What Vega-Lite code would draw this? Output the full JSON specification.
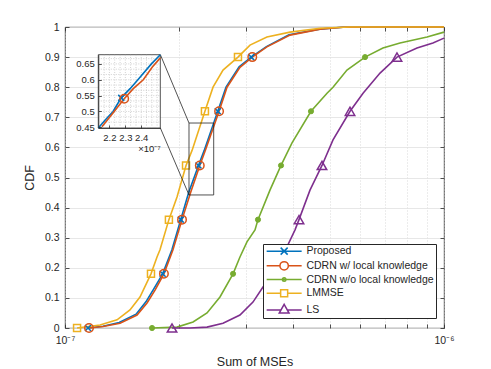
{
  "$schema": "https://vega.github.io/schema/vega-lite/v6.json",
  "width": 379,
  "height": 301,
  "autosize": "none",
  "padding": {"left": 65, "top": 27, "right": 47, "bottom": 41},
  "config": {
    "font": "Liberation Sans",
    "view": {"stroke": "#262626", "strokeWidth": 0.8},
    "axis": {
      "labelFont": "Liberation Sans",
      "labelFontSize": 10.5,
      "labelColor": "#262626",
      "titleFont": "Liberation Sans",
      "titleFontSize": 12.5,
      "titleFontWeight": "normal",
      "titleColor": "#262626",
      "tickColor": "#262626",
      "domainColor": "#262626",
      "tickWidth": 0.8,
      "domainWidth": 0.8
    }
  },
  "datasets": {
    "curves": [
      {"series": "Proposed", "mse": 1.150e-7, "cdf": 0},
      {"series": "Proposed", "mse": 1.26e-7, "cdf": 0.006},
      {"series": "Proposed", "mse": 1.39e-7, "cdf": 0.018},
      {"series": "Proposed", "mse": 1.54e-7, "cdf": 0.046},
      {"series": "Proposed", "mse": 1.635e-7, "cdf": 0.087},
      {"series": "Proposed", "mse": 1.715e-7, "cdf": 0.13},
      {"series": "Proposed", "mse": 1.81e-7, "cdf": 0.18},
      {"series": "Proposed", "mse": 1.915e-7, "cdf": 0.26},
      {"series": "Proposed", "mse": 2.02e-7, "cdf": 0.36},
      {"series": "Proposed", "mse": 2.12e-7, "cdf": 0.45},
      {"series": "Proposed", "mse": 2.25e-7, "cdf": 0.54},
      {"series": "Proposed", "mse": 2.33e-7, "cdf": 0.59},
      {"series": "Proposed", "mse": 2.53e-7, "cdf": 0.72},
      {"series": "Proposed", "mse": 2.66e-7, "cdf": 0.80},
      {"series": "Proposed", "mse": 2.88e-7, "cdf": 0.868},
      {"series": "Proposed", "mse": 3.10e-7, "cdf": 0.90},
      {"series": "Proposed", "mse": 3.40e-7, "cdf": 0.935},
      {"series": "Proposed", "mse": 3.90e-7, "cdf": 0.974},
      {"series": "Proposed", "mse": 4.70e-7, "cdf": 0.993},
      {"series": "Proposed", "mse": 5.40e-7, "cdf": 0.999},
      {"series": "Proposed", "mse": 6.80e-7, "cdf": 1},
      {"series": "Proposed", "mse": 1e-6, "cdf": 1},
      {"series": "CDRN w/ local knowledge", "mse": 1.157e-7, "cdf": 0},
      {"series": "CDRN w/ local knowledge", "mse": 1.26e-7, "cdf": 0.005},
      {"series": "CDRN w/ local knowledge", "mse": 1.397e-7, "cdf": 0.016},
      {"series": "CDRN w/ local knowledge", "mse": 1.549e-7, "cdf": 0.043},
      {"series": "CDRN w/ local knowledge", "mse": 1.646e-7, "cdf": 0.083},
      {"series": "CDRN w/ local knowledge", "mse": 1.728e-7, "cdf": 0.126},
      {"series": "CDRN w/ local knowledge", "mse": 1.824e-7, "cdf": 0.18},
      {"series": "CDRN w/ local knowledge", "mse": 1.927e-7, "cdf": 0.26},
      {"series": "CDRN w/ local knowledge", "mse": 2.036e-7, "cdf": 0.36},
      {"series": "CDRN w/ local knowledge", "mse": 2.145e-7, "cdf": 0.45},
      {"series": "CDRN w/ local knowledge", "mse": 2.268e-7, "cdf": 0.54},
      {"series": "CDRN w/ local knowledge", "mse": 2.345e-7, "cdf": 0.59},
      {"series": "CDRN w/ local knowledge", "mse": 2.55e-7, "cdf": 0.72},
      {"series": "CDRN w/ local knowledge", "mse": 2.676e-7, "cdf": 0.80},
      {"series": "CDRN w/ local knowledge", "mse": 2.895e-7, "cdf": 0.866},
      {"series": "CDRN w/ local knowledge", "mse": 3.12e-7, "cdf": 0.90},
      {"series": "CDRN w/ local knowledge", "mse": 3.41e-7, "cdf": 0.934},
      {"series": "CDRN w/ local knowledge", "mse": 3.924e-7, "cdf": 0.973},
      {"series": "CDRN w/ local knowledge", "mse": 4.71e-7, "cdf": 0.993},
      {"series": "CDRN w/ local knowledge", "mse": 5.415e-7, "cdf": 0.999},
      {"series": "CDRN w/ local knowledge", "mse": 6.78e-7, "cdf": 1},
      {"series": "CDRN w/ local knowledge", "mse": 1e-6, "cdf": 1},
      {"series": "CDRN w/o local knowledge", "mse": 1.697e-7, "cdf": 0},
      {"series": "CDRN w/o local knowledge", "mse": 1.975e-7, "cdf": 0.003},
      {"series": "CDRN w/o local knowledge", "mse": 2.177e-7, "cdf": 0.02},
      {"series": "CDRN w/o local knowledge", "mse": 2.37e-7, "cdf": 0.05},
      {"series": "CDRN w/o local knowledge", "mse": 2.564e-7, "cdf": 0.103},
      {"series": "CDRN w/o local knowledge", "mse": 2.776e-7, "cdf": 0.18},
      {"series": "CDRN w/o local knowledge", "mse": 2.895e-7, "cdf": 0.236},
      {"series": "CDRN w/o local knowledge", "mse": 3.021e-7, "cdf": 0.286},
      {"series": "CDRN w/o local knowledge", "mse": 3.172e-7, "cdf": 0.326},
      {"series": "CDRN w/o local knowledge", "mse": 3.23e-7, "cdf": 0.36},
      {"series": "CDRN w/o local knowledge", "mse": 3.474e-7, "cdf": 0.458},
      {"series": "CDRN w/o local knowledge", "mse": 3.715e-7, "cdf": 0.54},
      {"series": "CDRN w/o local knowledge", "mse": 3.972e-7, "cdf": 0.615},
      {"series": "CDRN w/o local knowledge", "mse": 4.457e-7, "cdf": 0.72},
      {"series": "CDRN w/o local knowledge", "mse": 4.913e-7, "cdf": 0.78},
      {"series": "CDRN w/o local knowledge", "mse": 5.095e-7, "cdf": 0.80},
      {"series": "CDRN w/o local knowledge", "mse": 5.546e-7, "cdf": 0.857},
      {"series": "CDRN w/o local knowledge", "mse": 6.19e-7, "cdf": 0.90},
      {"series": "CDRN w/o local knowledge", "mse": 6.9e-7, "cdf": 0.93},
      {"series": "CDRN w/o local knowledge", "mse": 7.655e-7, "cdf": 0.947},
      {"series": "CDRN w/o local knowledge", "mse": 9.02e-7, "cdf": 0.967},
      {"series": "CDRN w/o local knowledge", "mse": 1e-6, "cdf": 0.983},
      {"series": "LMMSE", "mse": 1.076e-7, "cdf": 0},
      {"series": "LMMSE", "mse": 1.237e-7, "cdf": 0.01},
      {"series": "LMMSE", "mse": 1.372e-7, "cdf": 0.027},
      {"series": "LMMSE", "mse": 1.484e-7, "cdf": 0.06},
      {"series": "LMMSE", "mse": 1.577e-7, "cdf": 0.103},
      {"series": "LMMSE", "mse": 1.686e-7, "cdf": 0.18},
      {"series": "LMMSE", "mse": 1.749e-7, "cdf": 0.236},
      {"series": "LMMSE", "mse": 1.781e-7, "cdf": 0.26},
      {"series": "LMMSE", "mse": 1.88e-7, "cdf": 0.36},
      {"series": "LMMSE", "mse": 1.975e-7, "cdf": 0.435},
      {"series": "LMMSE", "mse": 2.086e-7, "cdf": 0.54},
      {"series": "LMMSE", "mse": 2.164e-7, "cdf": 0.59},
      {"series": "LMMSE", "mse": 2.34e-7, "cdf": 0.72},
      {"series": "LMMSE", "mse": 2.458e-7, "cdf": 0.80},
      {"series": "LMMSE", "mse": 2.612e-7, "cdf": 0.857},
      {"series": "LMMSE", "mse": 2.86e-7, "cdf": 0.90},
      {"series": "LMMSE", "mse": 3.077e-7, "cdf": 0.94},
      {"series": "LMMSE", "mse": 3.41e-7, "cdf": 0.967},
      {"series": "LMMSE", "mse": 3.924e-7, "cdf": 0.983},
      {"series": "LMMSE", "mse": 4.71e-7, "cdf": 0.996},
      {"series": "LMMSE", "mse": 5.65e-7, "cdf": 1},
      {"series": "LMMSE", "mse": 1e-6, "cdf": 1},
      {"series": "LS", "mse": 1.916e-7, "cdf": 0},
      {"series": "LS", "mse": 2.137e-7, "cdf": 0},
      {"series": "LS", "mse": 2.37e-7, "cdf": 0.003},
      {"series": "LS", "mse": 2.612e-7, "cdf": 0.016},
      {"series": "LS", "mse": 2.895e-7, "cdf": 0.043},
      {"series": "LS", "mse": 3.133e-7, "cdf": 0.086},
      {"series": "LS", "mse": 3.33e-7, "cdf": 0.136},
      {"series": "LS", "mse": 3.5e-7, "cdf": 0.18},
      {"series": "LS", "mse": 3.853e-7, "cdf": 0.27},
      {"series": "LS", "mse": 4.045e-7, "cdf": 0.326},
      {"series": "LS", "mse": 4.144e-7, "cdf": 0.36},
      {"series": "LS", "mse": 4.43e-7, "cdf": 0.458},
      {"series": "LS", "mse": 4.765e-7, "cdf": 0.54},
      {"series": "LS", "mse": 5.095e-7, "cdf": 0.625},
      {"series": "LS", "mse": 5.65e-7, "cdf": 0.72},
      {"series": "LS", "mse": 6.115e-7, "cdf": 0.78},
      {"series": "LS", "mse": 6.78e-7, "cdf": 0.847},
      {"series": "LS", "mse": 7.516e-7, "cdf": 0.90},
      {"series": "LS", "mse": 8.487e-7, "cdf": 0.93},
      {"series": "LS", "mse": 9.35e-7, "cdf": 0.947},
      {"series": "LS", "mse": 1e-6, "cdf": 0.963}
    ],
    "markers": [
      {"series": "Proposed", "mse": 1.150e-7, "cdf": 0},
      {"series": "Proposed", "mse": 1.81e-7, "cdf": 0.18},
      {"series": "Proposed", "mse": 2.02e-7, "cdf": 0.36},
      {"series": "Proposed", "mse": 2.25e-7, "cdf": 0.54},
      {"series": "Proposed", "mse": 2.53e-7, "cdf": 0.72},
      {"series": "Proposed", "mse": 3.10e-7, "cdf": 0.90},
      {"series": "CDRN w/ local knowledge", "mse": 1.157e-7, "cdf": 0},
      {"series": "CDRN w/ local knowledge", "mse": 1.824e-7, "cdf": 0.18},
      {"series": "CDRN w/ local knowledge", "mse": 2.036e-7, "cdf": 0.36},
      {"series": "CDRN w/ local knowledge", "mse": 2.268e-7, "cdf": 0.54},
      {"series": "CDRN w/ local knowledge", "mse": 2.55e-7, "cdf": 0.72},
      {"series": "CDRN w/ local knowledge", "mse": 3.12e-7, "cdf": 0.90},
      {"series": "CDRN w/o local knowledge", "mse": 1.697e-7, "cdf": 0},
      {"series": "CDRN w/o local knowledge", "mse": 2.776e-7, "cdf": 0.18},
      {"series": "CDRN w/o local knowledge", "mse": 3.23e-7, "cdf": 0.36},
      {"series": "CDRN w/o local knowledge", "mse": 3.715e-7, "cdf": 0.54},
      {"series": "CDRN w/o local knowledge", "mse": 4.457e-7, "cdf": 0.72},
      {"series": "CDRN w/o local knowledge", "mse": 6.19e-7, "cdf": 0.90},
      {"series": "LMMSE", "mse": 1.076e-7, "cdf": 0},
      {"series": "LMMSE", "mse": 1.686e-7, "cdf": 0.18},
      {"series": "LMMSE", "mse": 1.88e-7, "cdf": 0.36},
      {"series": "LMMSE", "mse": 2.086e-7, "cdf": 0.54},
      {"series": "LMMSE", "mse": 2.34e-7, "cdf": 0.72},
      {"series": "LMMSE", "mse": 2.86e-7, "cdf": 0.90},
      {"series": "LS", "mse": 1.916e-7, "cdf": 0},
      {"series": "LS", "mse": 3.5e-7, "cdf": 0.18},
      {"series": "LS", "mse": 4.144e-7, "cdf": 0.36},
      {"series": "LS", "mse": 4.765e-7, "cdf": 0.54},
      {"series": "LS", "mse": 5.65e-7, "cdf": 0.72},
      {"series": "LS", "mse": 7.516e-7, "cdf": 0.90}
    ],
    "zoombox": [{"x1": 2.124e-7, "x2": 2.468e-7, "y1": 0.442, "y2": 0.681}],
    "connectors": [
      {"x1": 1.785e-7, "y1": 0.908, "x2": 2.124e-7, "y2": 0.681},
      {"x1": 1.785e-7, "y1": 0.6645, "x2": 2.124e-7, "y2": 0.442}
    ],
    "inset": [
      {"series": "Proposed", "mse": 2.130e-7, "cdf": 0.448},
      {"series": "Proposed", "mse": 2.175e-7, "cdf": 0.474},
      {"series": "Proposed", "mse": 2.223e-7, "cdf": 0.50},
      {"series": "Proposed", "mse": 2.274e-7, "cdf": 0.543},
      {"series": "Proposed", "mse": 2.33e-7, "cdf": 0.572},
      {"series": "Proposed", "mse": 2.379e-7, "cdf": 0.60},
      {"series": "Proposed", "mse": 2.464e-7, "cdf": 0.65},
      {"series": "Proposed", "mse": 2.52e-7, "cdf": 0.679},
      {"series": "CDRN w/ local knowledge", "mse": 2.153e-7, "cdf": 0.452},
      {"series": "CDRN w/ local knowledge", "mse": 2.22e-7, "cdf": 0.494},
      {"series": "CDRN w/ local knowledge", "mse": 2.293e-7, "cdf": 0.54},
      {"series": "CDRN w/ local knowledge", "mse": 2.35e-7, "cdf": 0.572},
      {"series": "CDRN w/ local knowledge", "mse": 2.413e-7, "cdf": 0.60},
      {"series": "CDRN w/ local knowledge", "mse": 2.47e-7, "cdf": 0.64},
      {"series": "CDRN w/ local knowledge", "mse": 2.52e-7, "cdf": 0.669}
    ],
    "insetMarkers": [
      {"series": "Proposed", "mse": 2.274e-7, "cdf": 0.543},
      {"series": "CDRN w/ local knowledge", "mse": 2.293e-7, "cdf": 0.54}
    ],
    "insetGridX": [
      {"v": 2.167e-7}, {"v": 2.2e-7}, {"v": 2.233e-7}, {"v": 2.267e-7}, {"v": 2.3e-7},
      {"v": 2.333e-7}, {"v": 2.367e-7}, {"v": 2.4e-7}, {"v": 2.433e-7}, {"v": 2.467e-7}, {"v": 2.5e-7}
    ],
    "insetGridY": [
      {"v": 0.4667}, {"v": 0.4833}, {"v": 0.5}, {"v": 0.5167}, {"v": 0.5333}, {"v": 0.55},
      {"v": 0.5667}, {"v": 0.5833}, {"v": 0.6}, {"v": 0.6167}, {"v": 0.6333}, {"v": 0.65}, {"v": 0.6667}
    ]
  },
  "layer": [
    {
      "layer": [
        {
          "data": {"name": "curves"},
          "transform": [{"filter": "datum.series === 'Proposed'"}],
          "mark": {"type": "line", "strokeWidth": 1.6, "stroke": "#0072BD"},
          "encoding": {
            "x": {
              "field": "mse", "type": "quantitative",
              "scale": {"type": "log", "domain": [1e-7, 1e-6], "nice": false},
              "axis": {
                "orient": "bottom", "title": "Sum of MSEs",
                "values": [1e-7, 2e-7, 3e-7, 4e-7, 5e-7, 6e-7, 7e-7, 8e-7, 9e-7, 1e-6],
                "labelExpr": "datum.value < 1.5e-7 ? '10⁻⁷' : (datum.value > 9.5e-7 ? '10⁻⁶' : '')",
                "grid": true, "gridDash": [1, 2], "gridColor": "#c8c8c8", "gridWidth": 0.7,
                "tickSize": -4, "labelPadding": 11, "titlePadding": 10, "domain": false,
                "labelFlush": false, "labelOverlap": false
              }
            },
            "y": {
              "field": "cdf", "type": "quantitative",
              "scale": {"domain": [0, 1], "nice": false},
              "axis": {
                "orient": "left", "title": "CDF",
                "values": [0, 0.1, 0.2, 0.3, 0.4, 0.5, 0.6, 0.7, 0.8, 0.9, 1],
                "format": ".1~f",
                "grid": true, "gridColor": "#e1e1e1", "gridWidth": 0.8,
                "tickSize": -4, "labelPadding": 10, "titlePadding": 8, "domain": false,
                "labelFlush": false, "labelOverlap": false
              }
            }
          }
        },
        {
          "data": {"name": "curves"},
          "transform": [{"filter": "datum.series === 'CDRN w/ local knowledge'"}],
          "mark": {"type": "line", "strokeWidth": 1.6, "stroke": "#D95319"},
          "encoding": {"x": {"field": "mse", "type": "quantitative", "axis": null}, "y": {"field": "cdf", "type": "quantitative", "axis": null}}
        },
        {
          "data": {"name": "curves"},
          "transform": [{"filter": "datum.series === 'CDRN w/o local knowledge'"}],
          "mark": {"type": "line", "strokeWidth": 1.6, "stroke": "#77AC30"},
          "encoding": {"x": {"field": "mse", "type": "quantitative", "axis": null}, "y": {"field": "cdf", "type": "quantitative", "axis": null}}
        },
        {
          "data": {"name": "curves"},
          "transform": [{"filter": "datum.series === 'LMMSE'"}],
          "mark": {"type": "line", "strokeWidth": 1.6, "stroke": "#EDB120"},
          "encoding": {"x": {"field": "mse", "type": "quantitative", "axis": null}, "y": {"field": "cdf", "type": "quantitative", "axis": null}}
        },
        {
          "data": {"name": "curves"},
          "transform": [{"filter": "datum.series === 'LS'"}],
          "mark": {"type": "line", "strokeWidth": 1.6, "stroke": "#7E2F8E"},
          "encoding": {"x": {"field": "mse", "type": "quantitative", "axis": null}, "y": {"field": "cdf", "type": "quantitative", "axis": null}}
        },
        {
          "data": {"name": "markers"},
          "transform": [{"filter": "datum.series === 'Proposed'"}],
          "mark": {"type": "point", "shape": "M-1,-1L1,1M1,-1L-1,1", "size": 36, "filled": false, "stroke": "#0072BD", "strokeWidth": 1.5, "opacity": 1},
          "encoding": {"x": {"field": "mse", "type": "quantitative", "axis": null}, "y": {"field": "cdf", "type": "quantitative", "axis": null}}
        },
        {
          "data": {"name": "markers"},
          "transform": [{"filter": "datum.series === 'CDRN w/ local knowledge'"}],
          "mark": {"type": "point", "shape": "circle", "size": 72, "filled": false, "stroke": "#D95319", "strokeWidth": 1.5, "opacity": 1},
          "encoding": {"x": {"field": "mse", "type": "quantitative", "axis": null}, "y": {"field": "cdf", "type": "quantitative", "axis": null}}
        },
        {
          "data": {"name": "markers"},
          "transform": [{"filter": "datum.series === 'CDRN w/o local knowledge'"}],
          "mark": {"type": "point", "shape": "circle", "size": 26, "filled": true, "fill": "#77AC30", "stroke": "#77AC30", "strokeWidth": 1, "opacity": 1},
          "encoding": {"x": {"field": "mse", "type": "quantitative", "axis": null}, "y": {"field": "cdf", "type": "quantitative", "axis": null}}
        },
        {
          "data": {"name": "markers"},
          "transform": [{"filter": "datum.series === 'LMMSE'"}],
          "mark": {"type": "point", "shape": "square", "size": 49, "filled": false, "stroke": "#EDB120", "strokeWidth": 1.5, "opacity": 1},
          "encoding": {"x": {"field": "mse", "type": "quantitative", "axis": null}, "y": {"field": "cdf", "type": "quantitative", "axis": null}}
        },
        {
          "data": {"name": "markers"},
          "transform": [{"filter": "datum.series === 'LS'"}],
          "mark": {"type": "point", "shape": "triangle-up", "size": 90, "filled": false, "stroke": "#7E2F8E", "strokeWidth": 1.5, "opacity": 1},
          "encoding": {"x": {"field": "mse", "type": "quantitative", "axis": null}, "y": {"field": "cdf", "type": "quantitative", "axis": null}}
        },
        {
          "data": {"name": "zoombox"},
          "mark": {"type": "rect", "fillOpacity": 0, "stroke": "#262626", "strokeWidth": 0.8},
          "encoding": {
            "x": {
              "field": "x1", "type": "quantitative",
              "axis": {
                "orient": "top", "title": null, "labels": false, "grid": false, "domain": false,
                "tickSize": -4,
                "values": [1e-7, 2e-7, 3e-7, 4e-7, 5e-7, 6e-7, 7e-7, 8e-7, 9e-7, 1e-6]
              }
            },
            "x2": {"field": "x2"},
            "y": {
              "field": "y1", "type": "quantitative",
              "axis": {
                "orient": "right", "title": null, "labels": false, "grid": false, "domain": false,
                "tickSize": -4,
                "values": [0, 0.1, 0.2, 0.3, 0.4, 0.5, 0.6, 0.7, 0.8, 0.9, 1]
              }
            },
            "y2": {"field": "y2"}
          }
        },
        {
          "data": {"name": "connectors"},
          "mark": {"type": "rule", "stroke": "#262626", "strokeWidth": 0.8},
          "encoding": {
            "x": {"field": "x1", "type": "quantitative", "axis": null},
            "x2": {"field": "x2"},
            "y": {"field": "y1", "type": "quantitative", "axis": null},
            "y2": {"field": "y2"}
          }
        },
        {
          "data": {"name": "markers"},
          "mark": {"type": "point", "filled": false, "size": 49, "strokeWidth": 1.5, "opacity": 0},
          "encoding": {
            "x": {"field": "mse", "type": "quantitative", "axis": null},
            "y": {"field": "cdf", "type": "quantitative", "axis": null},
            "color": {
              "field": "series", "type": "nominal",
              "scale": {
                "domain": ["Proposed", "CDRN w/ local knowledge", "CDRN w/o local knowledge", "LMMSE", "LS"],
                "range": ["#0072BD", "#D95319", "#77AC30", "#EDB120", "#7E2F8E"]
              },
              "legend": {
                "title": null, "orient": "none", "legendX": 198, "legendY": 217,
                "fillColor": "white", "strokeColor": "#262626", "padding": 1.9,
                "symbolSize": 49, "symbolStrokeWidth": 1.5, "symbolOpacity": 1,
                "labelOffset": 31, "rowPadding": 0.7, "labelFontSize": 10.5,
                "labelFont": "Liberation Sans", "labelColor": "#262626", "labelLimit": 300,
                "labelExpr": "datum.label + '\u00a0\u00a0\u00a0'"
              }
            },
            "shape": {
              "field": "series", "type": "nominal",
              "scale": {
                "domain": ["Proposed", "CDRN w/ local knowledge", "CDRN w/o local knowledge", "LMMSE", "LS"],
                "range": [
                  "M-1,0H9M3,-1L5,1M5,-1L3,1",
                  "M-1,0H2.8M5.2,0H9M2.8,0A1.2,1.2 0 1,1 5.2,0A1.2,1.2 0 1,1 2.8,0",
                  "M-1,0H9M3.5,0A0.5,0.5 0 1,1 4.5,0A0.5,0.5 0 1,1 3.5,0",
                  "M-1,0H3M5,0H9M3,-1H5V1H3Z",
                  "M-1,0H3.1M4.9,0H9M4,-1.6L5.4,0.9H2.6Z"
                ]
              }
            }
          }
        }
      ],
      "resolve": {"axis": {"x": "independent", "y": "independent"}}
    },
    {
      "layer": [
        {
          "data": {"values": [{}]},
          "mark": {"type": "rect", "fill": "white", "stroke": "#262626", "strokeWidth": 0.8},
          "encoding": {
            "x": {
              "datum": 2.13e-7, "type": "quantitative",
              "scale": {"type": "linear", "domain": [2.13e-7, 2.52e-7], "range": [33.3, 95.3], "nice": false, "zero": false},
              "axis": {
                "orient": "bottom", "offset": -200, "title": "×10⁻⁷", "titleAnchor": "end",
                "titleFontSize": 9.5, "titlePadding": 2,
                "values": [2.2e-7, 2.3e-7, 2.4e-7],
                "labelExpr": "format(datum.value * 1e7, '.1f')",
                "labelFontSize": 9.5, "labelPadding": 7, "tickSize": -3, "grid": false,
                "domain": true, "zindex": 1, "labelFlush": false, "labelOverlap": false
              }
            },
            "x2": {"datum": 2.52e-7},
            "y": {
              "datum": 0.448, "type": "quantitative",
              "scale": {"domain": [0.448, 0.679], "range": [101, 27.7], "nice": false, "zero": false},
              "axis": {
                "orient": "left", "offset": -33.3, "title": null,
                "values": [0.45, 0.5, 0.55, 0.6, 0.65], "format": ".2~f",
                "labelFontSize": 9.5, "labelPadding": 7, "tickSize": -3, "grid": false,
                "domain": true, "zindex": 1, "labelFlush": false, "labelOverlap": false
              }
            },
            "y2": {"datum": 0.679}
          }
        },
        {
          "data": {"name": "insetGridX"},
          "mark": {"type": "rule", "stroke": "#b4b4b4", "strokeWidth": 0.6, "strokeDash": [1, 1.5]},
          "encoding": {
            "x": {"field": "v", "type": "quantitative"},
            "y": {"datum": 0.448, "type": "quantitative"},
            "y2": {"datum": 0.679}
          }
        },
        {
          "data": {"name": "insetGridY"},
          "mark": {"type": "rule", "stroke": "#b4b4b4", "strokeWidth": 0.6, "strokeDash": [1, 1.5]},
          "encoding": {
            "y": {"field": "v", "type": "quantitative"},
            "x": {"datum": 2.13e-7, "type": "quantitative"},
            "x2": {"datum": 2.52e-7}
          }
        },
        {
          "data": {"name": "inset"},
          "transform": [{"filter": "datum.series === 'Proposed'"}],
          "mark": {"type": "line", "strokeWidth": 1.6, "stroke": "#0072BD"},
          "encoding": {"x": {"field": "mse", "type": "quantitative"}, "y": {"field": "cdf", "type": "quantitative"}}
        },
        {
          "data": {"name": "inset"},
          "transform": [{"filter": "datum.series === 'CDRN w/ local knowledge'"}],
          "mark": {"type": "line", "strokeWidth": 1.6, "stroke": "#D95319"},
          "encoding": {"x": {"field": "mse", "type": "quantitative"}, "y": {"field": "cdf", "type": "quantitative"}}
        },
        {
          "data": {"name": "insetMarkers"},
          "transform": [{"filter": "datum.series === 'Proposed'"}],
          "mark": {"type": "point", "shape": "M-1,-1L1,1M1,-1L-1,1", "size": 36, "filled": false, "stroke": "#0072BD", "strokeWidth": 1.5, "opacity": 1},
          "encoding": {"x": {"field": "mse", "type": "quantitative"}, "y": {"field": "cdf", "type": "quantitative"}}
        },
        {
          "data": {"name": "insetMarkers"},
          "transform": [{"filter": "datum.series === 'CDRN w/ local knowledge'"}],
          "mark": {"type": "point", "shape": "circle", "size": 72, "filled": false, "stroke": "#D95319", "strokeWidth": 1.5, "opacity": 1},
          "encoding": {"x": {"field": "mse", "type": "quantitative"}, "y": {"field": "cdf", "type": "quantitative"}}
        }
      ]
    }
  ],
  "resolve": {"scale": {"x": "independent", "y": "independent"}, "axis": {"x": "independent", "y": "independent"}}
}
